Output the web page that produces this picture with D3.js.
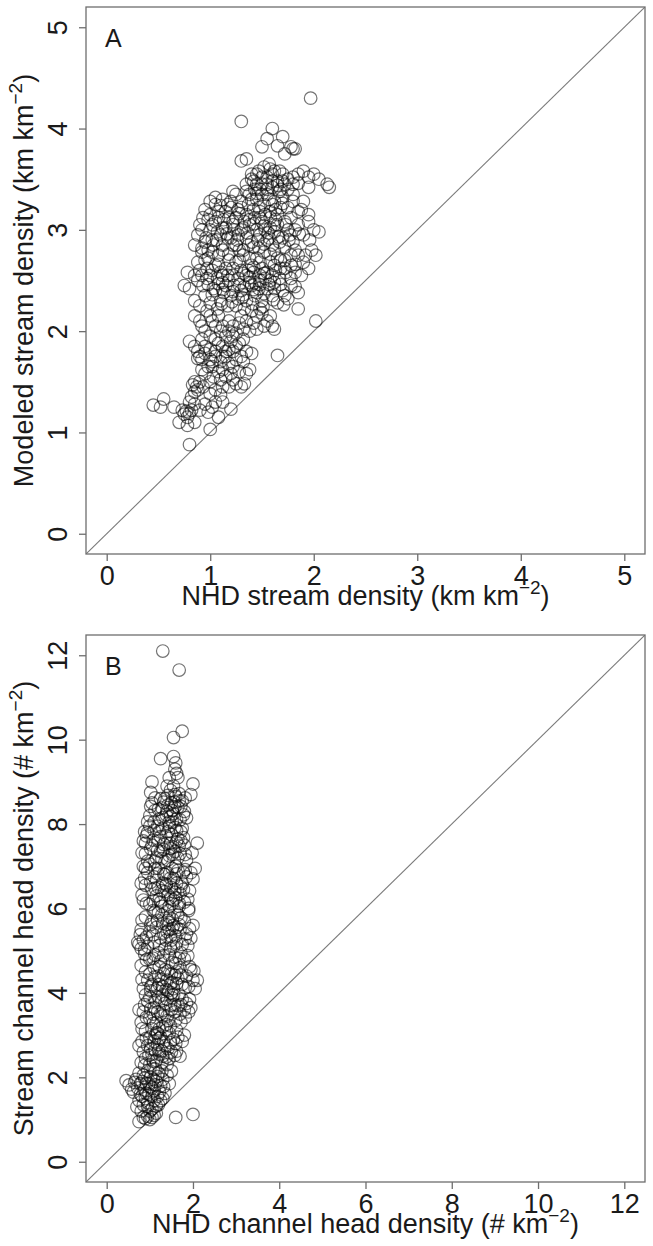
<!DOCTYPE html>
<html><head><meta charset="utf-8">
<script src="https://cdn.jsdelivr.net/npm/d3@7"></script>
<style>
html,body{margin:0;padding:0;background:#fff;}
text{font-family:"Liberation Sans",Arial,sans-serif;fill:#1a1a1a;}
</style></head>
<body>
<svg id="chart" width="653" height="1246"></svg>
<script>
// ---------- DATA ----------
const ticksA = [0,1,2,3,4,5];
const ticksB = [0,2,4,6,8,10,12];
const domainA = [-0.2, 5.2];
const domainB = [-0.48, 12.48];

// Panel A: [NHD stream density, Modeled stream density]
const pointsA = [
[0.80,0.88],[1.00,1.03],[0.45,1.27],[0.52,1.25],[0.55,1.33],[0.65,1.25],[0.70,1.10],[0.73,1.22],[0.75,1.18],[0.77,1.21],
[0.78,1.15],[0.80,1.19],[0.82,1.22],[0.78,1.07],[0.85,1.10],[0.98,1.20],[1.02,1.25],[1.05,1.30],[1.20,1.23],[0.95,1.28],[1.08,1.15],
[0.82,1.35],[0.85,1.40],[0.87,1.45],[0.90,1.50],[0.83,1.47],[0.88,1.42],[1.00,1.38],[1.05,1.42],[1.10,1.37],[1.12,1.45],
[1.15,1.55],[1.25,1.48],[1.30,1.45],[1.33,1.48],[1.35,1.58],[1.03,1.55],[0.95,1.58],[1.20,1.58],[1.08,1.60],[1.28,1.60],
[0.88,1.73],[0.90,1.75],[0.92,1.72],[0.95,1.78],[1.00,1.72],[1.02,1.65],[1.05,1.80],[1.10,1.70],[1.12,1.85],[1.15,1.75],
[1.18,1.68],[1.22,1.80],[1.25,1.85],[1.30,1.75],[1.35,1.80],[1.40,1.78],[0.80,1.90],[0.85,1.85],[1.65,1.76],[1.08,1.88],[0.98,1.65],[1.20,1.90],
[0.95,2.00],[1.00,1.95],[1.05,2.05],[1.10,2.00],[1.15,1.95],[1.18,2.10],[1.22,2.05],[1.30,2.15],[1.35,2.10],[1.40,2.20],
[1.45,2.15],[1.50,2.18],[1.48,2.22],[1.60,2.05],[1.62,2.02],[1.85,2.22],[2.02,2.10],[0.90,2.10],[0.85,2.15],[1.25,1.98],[1.08,2.15],[1.38,2.00],[1.55,2.10],
[0.80,2.42],[0.85,2.30],[0.90,2.25],[0.95,2.35],[1.00,2.28],[1.05,2.40],[1.10,2.30],[1.15,2.45],[1.20,2.35],[1.25,2.25],
[1.30,2.40],[1.35,2.30],[1.40,2.45],[1.45,2.38],[1.50,2.30],[1.55,2.42],[1.60,2.35],[1.65,2.28],[1.70,2.40],[1.75,2.32],
[1.78,2.45],[1.85,2.38],[0.75,2.45],[0.78,2.58],[1.12,2.48],[1.38,2.48],[1.48,2.50],[1.62,2.48],
[0.85,2.55],[0.90,2.60],[0.95,2.70],[1.00,2.55],[1.05,2.65],[1.08,2.75],[1.10,2.58],[1.15,2.62],[1.18,2.70],[1.22,2.55],
[1.25,2.68],[1.30,2.60],[1.32,2.75],[1.35,2.55],[1.40,2.65],[1.42,2.58],[1.45,2.72],[1.48,2.55],[1.50,2.62],[1.52,2.78],
[1.55,2.58],[1.58,2.68],[1.60,2.55],[1.65,2.72],[1.68,2.62],[1.72,2.70],[1.78,2.65],[1.82,2.58],[1.85,2.75],[1.90,2.68],
[1.95,2.62],[1.88,2.55],[0.98,2.80],[1.28,2.80],
[0.85,2.85],[0.88,2.95],[0.90,3.05],[0.95,2.88],[1.00,3.00],[1.02,2.90],[1.05,3.08],[1.10,2.95],[1.12,2.85],[1.15,3.02],
[1.20,2.92],[1.22,3.08],[1.25,2.85],[1.30,3.00],[1.35,2.92],[1.38,3.05],[1.40,2.88],[1.45,3.00],[1.48,2.95],[1.50,3.08],
[1.55,2.90],[1.58,3.02],[1.60,2.85],[1.62,2.98],[1.65,3.05],[1.70,2.92],[1.75,3.00],[1.80,2.88],[1.85,3.05],[1.90,2.95],
[1.95,3.08],[2.00,3.00],[2.05,2.98],[1.98,2.80],[2.02,2.75],
[0.95,3.20],[1.00,3.15],[1.05,3.25],[1.08,3.12],[1.12,3.30],[1.15,3.18],[1.20,3.22],[1.25,3.12],[1.30,3.28],[1.35,3.15],
[1.38,3.35],[1.42,3.20],[1.45,3.30],[1.48,3.12],[1.52,3.25],[1.55,3.35],[1.58,3.18],[1.62,3.28],[1.65,3.15],[1.70,3.32],
[1.75,3.22],[1.80,3.35],[1.85,3.18],[1.90,3.28],[1.95,3.15],[1.05,3.32],[1.22,3.38],
[1.35,3.45],[1.40,3.55],[1.42,3.48],[1.45,3.55],[1.50,3.45],[1.55,3.52],[1.60,3.42],[1.62,3.58],[1.65,3.48],[1.70,3.55],
[1.75,3.50],[1.80,3.45],[1.85,3.55],[1.90,3.58],[1.95,3.52],[2.00,3.55],[2.05,3.50],[2.13,3.45],[2.15,3.42],[1.52,3.62],
[1.58,3.60],[1.30,3.68],[1.35,3.70],[1.68,3.40],[1.48,3.40],
[1.97,4.30],[1.30,4.07],[1.60,4.00],[1.55,3.90],[1.50,3.82],[1.65,3.83],[1.70,3.92],[1.78,3.82],[1.80,3.80],[1.82,3.80],[1.72,3.75],
[1.03,2.42],[1.07,2.52],[1.13,2.38],[1.17,2.55],[1.23,2.45],[1.27,2.52],[1.33,2.44],[1.37,2.60],[1.43,2.48],[1.47,2.42],
[1.53,2.52],[1.57,2.46],[1.63,2.60],[1.67,2.52],[1.73,2.58],[1.43,2.35],[1.33,2.22],[1.27,2.32],[1.17,2.25],[1.07,2.22],
[1.03,2.85],[1.07,2.98],[1.13,3.10],[1.17,2.92],[1.23,3.00],[1.27,2.95],[1.33,3.08],[1.37,2.85],[1.43,3.12],[1.47,2.82],
[1.53,3.00],[1.57,2.92],[1.63,3.10],[1.67,2.88],[1.73,3.05],[1.77,2.95],[1.47,3.22],[1.53,3.15],[1.57,3.30],[1.63,3.20],
[1.67,3.38],[1.43,3.40],[1.37,3.25],[1.27,3.20],[1.17,3.25],[1.60,3.48],[1.55,3.45],[1.45,3.45],[1.72,3.45],[0.93,2.45],
[0.97,2.52],[0.92,2.78],[0.97,2.62],[0.93,3.12],[1.00,3.28],[1.12,1.62],[1.15,1.80],[1.05,1.75],[0.95,1.85],[1.25,1.72],
[1.32,1.92],[1.45,2.02],[1.18,2.00],[1.28,2.08],[1.02,2.10],[0.97,2.20],
[1.11,2.27],[1.21,2.29],[1.31,2.33],[1.41,2.27],[1.51,2.24],[1.61,2.31],[1.71,2.26],
[1.02,2.36],[1.12,2.41],[1.22,2.39],[1.32,2.36],[1.42,2.41],[1.52,2.37],[1.62,2.42],[1.72,2.35],[1.82,2.44],
[0.88,2.50],[0.98,2.46],[1.08,2.47],[1.18,2.50],[1.28,2.46],[1.38,2.53],[1.48,2.46],[1.58,2.50],[1.68,2.46],[1.78,2.52],
[0.92,2.55],[1.02,2.60],[1.12,2.55],[1.22,2.62],[1.32,2.57],[1.42,2.63],[1.52,2.57],[1.62,2.65],[1.72,2.62],[1.82,2.66],
[0.88,2.68],[0.98,2.72],[1.08,2.66],[1.18,2.76],[1.28,2.70],[1.38,2.72],[1.48,2.68],[1.58,2.76],[1.68,2.70],[1.78,2.75],[1.92,2.75],
[0.92,2.82],[1.02,2.78],[1.12,2.80],[1.22,2.85],[1.32,2.80],[1.42,2.83],[1.52,2.86],[1.62,2.80],[1.72,2.83],[1.82,2.80],
[0.96,2.92],[1.06,2.90],[1.16,2.96],[1.26,2.90],[1.36,2.97],[1.46,2.90],[1.56,2.97],[1.66,2.93],[1.76,2.90],[1.86,2.96],[1.96,2.90],
[0.92,3.00],[1.02,3.05],[1.12,3.02],[1.22,3.05],[1.32,3.02],[1.42,3.06],[1.52,3.04],[1.62,3.05],[1.72,3.08],[1.82,3.00],
[0.98,3.10],[1.08,3.18],[1.18,3.12],[1.28,3.16],[1.38,3.10],[1.48,3.18],[1.58,3.12],[1.68,3.22],[1.78,3.12],[1.88,3.20],
[1.10,3.24],[1.20,3.28],[1.30,3.22],[1.40,3.30],[1.50,3.35],[1.60,3.25],[1.70,3.26],[1.80,3.28],
[1.25,3.35],[1.35,3.38],[1.45,3.36],[1.55,3.40],[1.65,3.44],[1.75,3.40],[1.85,3.46],[1.95,3.42],
[1.40,3.50],[1.50,3.52],[1.60,3.55],[1.70,3.48],[1.80,3.52],[1.47,3.58],[1.57,3.65],[1.67,3.58],
[0.92,1.62],[1.02,1.70],[1.12,1.75],[1.22,1.65],[1.32,1.70],[1.38,1.62],[0.88,1.80],[1.00,1.82],[1.18,1.82],[1.28,1.88],
[0.92,1.92],[1.05,1.92],[1.12,2.05],[1.22,1.95],[1.32,2.02],[1.42,2.08],[1.52,2.05],[1.58,2.15],[0.92,2.05],[1.00,2.15],
[0.85,1.50],[0.93,1.45],[1.00,1.50],[1.10,1.52],[1.18,1.45],[1.22,1.52],[0.85,1.28],[0.90,1.22],[0.80,1.30],[1.12,1.30]
];

// Panel B: [NHD channel head density, Stream channel head density]
const pointsB = [
[0.75,0.95],[0.85,1.05],[0.90,1.02],[0.95,1.08],[1.00,1.00],[1.05,1.05],[1.10,1.10],[1.15,1.15],[0.80,1.20],[0.70,1.30],
[0.75,1.45],[0.85,1.35],[0.95,1.30],[1.05,1.25],[1.20,1.35],[1.25,1.45],[1.10,1.45],[0.90,1.50],[1.30,1.50],[1.60,1.05],[2.00,1.12],
[0.45,1.92],[0.52,1.82],[0.58,1.72],[0.62,1.65],[0.65,1.88],[0.72,1.75],[0.78,1.60],[0.82,1.90],[0.88,1.70],[0.92,1.85],
[0.98,1.60],[1.02,2.00],[1.05,1.75],[1.10,1.68],[1.15,1.90],[1.20,2.10],[1.25,1.80],[1.30,1.95],[1.35,1.62],[1.40,2.05],
[1.45,1.85],[0.95,2.15],[0.85,2.05],[1.08,2.20],[0.75,2.10],[1.50,2.15],
[0.80,2.35],[0.85,2.60],[0.90,2.45],[0.95,2.75],[1.00,2.30],[1.05,2.55],[1.10,2.85],[1.15,2.40],[1.20,2.65],[1.25,2.95],
[1.30,2.50],[1.35,2.75],[1.40,2.30],[1.50,2.60],[1.55,2.90],[1.60,2.80],[1.65,2.95],[1.70,2.50],[1.75,2.85],[1.80,3.00],
[0.75,2.75],[1.12,2.20],[1.45,2.45],[1.00,2.95],[1.28,2.35],
[0.80,3.30],[0.85,3.55],[0.90,3.10],[0.95,3.80],[1.00,3.40],[1.05,3.15],[1.10,3.65],[1.15,3.30],[1.20,3.90],[1.25,3.50],
[1.30,3.20],[1.35,3.75],[1.40,3.45],[1.45,3.05],[1.50,3.60],[1.55,3.95],[1.60,3.35],[1.65,3.70],[1.70,3.50],[1.75,3.85],
[1.80,3.60],[1.85,3.75],[1.90,3.55],[1.95,3.65],[1.00,3.90],[1.15,3.05],[1.30,3.95],[0.75,3.60],[0.90,3.95],[1.40,3.85],
[0.85,4.10],[0.90,4.50],[0.95,4.30],[1.00,4.80],[1.05,4.20],[1.10,4.60],[1.15,4.05],[1.20,4.40],[1.25,4.75],[1.30,4.15],
[1.35,4.55],[1.40,4.30],[1.45,4.90],[1.50,4.45],[1.55,4.10],[1.60,4.70],[1.65,4.35],[1.70,4.60],[1.75,4.20],[1.80,4.80],
[1.85,4.40],[1.90,4.15],[1.95,4.55],[2.00,4.30],[2.05,4.10],[2.10,4.30],[1.20,4.95],[0.80,4.65],[1.50,4.00],[1.00,4.45],
[0.75,5.15],[0.80,5.50],[0.85,5.25],[0.90,5.80],[0.95,5.10],[1.00,5.45],[1.05,5.70],[1.10,5.20],[1.15,5.55],[1.20,5.90],
[1.25,5.30],[1.30,5.65],[1.35,5.05],[1.40,5.45],[1.45,5.80],[1.50,5.25],[1.55,5.60],[1.60,5.35],[1.65,5.85],[1.70,5.50],
[1.75,5.15],[1.80,5.70],[1.85,5.40],[1.90,5.95],[1.95,5.30],[2.00,5.60],[1.55,5.10],[1.45,5.50],[0.80,5.05],[0.72,5.20],
[0.85,6.20],[0.90,6.55],[0.95,6.85],[1.00,6.10],[1.05,6.45],[1.10,6.75],[1.15,6.30],[1.20,6.95],[1.25,6.15],[1.30,6.60],
[1.35,6.40],[1.40,6.85],[1.45,6.05],[1.50,6.50],[1.55,6.70],[1.60,6.25],[1.65,6.90],[1.70,6.35],[1.75,6.60],[1.80,6.15],
[1.85,6.75],[1.90,6.00],[1.95,6.85],[2.05,6.95],[2.00,6.70],[0.90,6.95],[1.35,6.80],[1.55,6.20],[1.20,6.50],[0.80,6.60],
[0.85,7.60],[0.90,7.30],[0.95,7.80],[1.00,7.05],[1.05,7.50],[1.10,7.85],[1.15,7.20],[1.20,7.60],[1.25,7.35],[1.30,7.90],
[1.35,7.10],[1.40,7.55],[1.45,7.25],[1.50,7.75],[1.55,7.45],[1.60,7.00],[1.65,7.65],[1.70,7.30],[1.75,7.90],[1.80,7.50],
[1.85,7.15],[2.10,7.55],[0.85,7.00],[1.00,7.95],[1.25,7.70],[1.45,7.95],[1.65,7.20],[0.90,7.55],
[1.00,8.20],[1.05,8.50],[1.10,8.05],[1.20,8.35],[1.30,8.15],[1.35,8.60],[1.40,8.30],[1.45,8.05],[1.50,8.50],[1.55,8.25],
[1.60,8.65],[1.65,8.40],[1.70,8.10],[1.75,8.55],[1.80,8.30],[1.85,8.15],[1.95,8.70],[2.00,8.95],[1.02,8.75],[1.05,9.00],
[1.45,9.10],[1.62,9.20],[1.65,9.10],[1.48,8.80],[1.58,8.70],[1.25,8.60],[1.40,8.90],
[1.58,9.30],[1.60,9.45],[1.55,9.60],[1.25,9.55],[1.55,10.05],[1.75,10.20],[1.30,12.10],[1.68,11.65],
[1.22,2.55],[1.32,2.85],[1.18,3.05],[1.28,3.45],[1.38,3.25],[1.48,3.70],[1.58,3.55],[1.42,4.05],[1.52,4.25],[1.62,4.50],
[1.32,4.45],[1.22,4.20],[1.58,4.85],[1.48,5.05],[1.38,5.25],[1.62,5.55],[1.52,5.75],[1.42,5.95],[1.28,6.05],[1.58,6.45],
[1.48,6.25],[1.38,6.55],[1.62,6.60],[1.52,6.95],[1.42,7.15],[1.32,7.40],[1.58,7.35],[1.48,7.55],[1.62,7.85],[1.52,8.05],
[1.42,8.45],[1.58,8.40],[1.68,8.55],[1.55,8.90],[1.12,2.65],[1.08,3.50],[1.02,4.15],[1.12,4.90],[1.08,5.95],[1.12,6.95],
[1.18,7.95],[1.72,4.95],[1.78,6.45],[1.72,7.60],[1.68,6.05],[1.72,3.30],[1.05,1.55],[0.98,1.85],[1.18,1.55],
[0.88,2.28],[0.98,2.52],[1.08,2.38],[1.18,2.78],[1.28,2.62],[1.38,2.48],[1.48,2.82],[1.58,2.52],[0.92,2.92],[1.02,2.68],
[1.22,2.92],[1.42,2.68],[1.62,2.62],[0.82,2.85],[1.12,2.98],
[0.82,1.55],[0.92,1.62],[1.02,1.78],[1.12,1.82],[1.22,1.65],[1.32,1.78],[0.68,1.95],[0.88,1.98],[1.08,1.95],[1.18,2.02],
[1.28,2.15],[0.78,1.85],[0.95,1.40],[1.15,1.32],[1.00,1.20],
[0.82,3.15],[0.92,3.42],[1.02,3.62],[1.12,3.82],[1.22,3.15],[1.32,3.58],[1.42,3.35],[1.52,3.88],[1.62,3.12],[1.72,3.72],
[1.82,3.42],[1.92,3.85],[0.88,3.72],[1.08,3.28],[1.28,3.82],[1.48,3.22],[1.68,3.95],[1.18,3.55],[1.38,3.12],[1.58,3.72],
[0.82,4.32],[0.92,4.78],[1.02,4.05],[1.12,4.38],[1.22,4.62],[1.32,4.88],[1.42,4.52],[1.52,4.72],[1.62,4.22],[1.72,4.42],
[1.82,4.12],[1.92,4.62],[2.02,4.52],[0.88,4.92],[1.08,4.82],[1.28,4.32],[1.48,4.22],[1.68,4.82],[1.88,4.88],[1.38,4.08],
[1.58,4.42],[1.18,4.12],
[0.82,5.72],[0.92,5.32],[1.02,5.62],[1.12,5.92],[1.22,5.12],[1.32,5.42],[1.42,5.72],[1.52,5.52],[1.62,5.18],[1.72,5.78],
[1.82,5.28],[1.92,5.52],[0.88,5.02],[1.08,5.38],[1.28,5.85],[1.48,5.35],[1.68,5.62],[1.88,5.12],[1.38,5.62],[1.58,5.92],
[1.18,5.72],[0.78,5.38],
[0.82,6.32],[0.92,6.12],[1.02,6.62],[1.12,6.48],[1.22,6.22],[1.32,6.82],[1.42,6.32],[1.52,6.12],[1.62,6.82],[1.72,6.52],
[1.82,6.92],[1.92,6.42],[0.88,6.72],[1.08,6.18],[1.28,6.42],[1.48,6.72],[1.68,6.12],[1.88,6.22],[1.38,6.58],[1.58,6.38],
[1.18,6.82],[1.78,6.85],
[0.82,7.32],[0.92,7.72],[1.02,7.42],[1.12,7.12],[1.22,7.82],[1.32,7.52],[1.42,7.82],[1.52,7.28],[1.62,7.58],[1.72,7.82],
[1.82,7.28],[0.88,7.82],[1.08,7.62],[1.28,7.18],[1.48,7.42],[1.68,7.48],[1.38,7.72],[1.58,7.92],[1.18,7.38],[1.78,7.68],
[1.98,7.32],[0.95,7.12],
[1.02,8.42],[1.12,8.32],[1.22,8.12],[1.32,8.52],[1.42,8.68],[1.52,8.32],[1.62,8.12],[1.72,8.42],[1.82,8.62],[1.12,8.62],
[1.28,8.38],[1.48,8.18],[1.68,8.72],[1.58,8.52],[1.38,8.22],[1.78,8.22],[0.95,8.05]
];

// ---------- DRAW ----------
const svg = d3.select("#chart");
const panels = [
  {pts: pointsA, ticks: ticksA, dom: domainA, top: 7, bottom: 554, label: "A",
   xt: ["NHD stream density (km km", ")"], yt: ["Modeled stream density (km km", ")"]},
  {pts: pointsB, ticks: ticksB, dom: domainB, top: 635, bottom: 1182, label: "B",
   xt: ["NHD channel head density (# km", ")"], yt: ["Stream channel head density (# km", ")"]}
];
const left = 86, right = 645;
const fs = 27;

panels.forEach((p, i) => {
  const x = d3.scaleLinear().domain(p.dom).range([left, right]);
  const y = d3.scaleLinear().domain(p.dom).range([p.bottom, p.top]);
  const g = svg.append("g");

  const clipId = "clip" + i;
  g.append("clipPath").attr("id", clipId).append("rect")
    .attr("x", left).attr("y", p.top).attr("width", right - left).attr("height", p.bottom - p.top);

  // 1:1 line
  g.append("line").attr("clip-path", `url(#${clipId})`)
    .attr("x1", x(p.dom[0])).attr("y1", y(p.dom[0]))
    .attr("x2", x(p.dom[1])).attr("y2", y(p.dom[1]))
    .attr("stroke", "#7a7a7a").attr("stroke-width", 1.1);

  // points
  g.append("g").selectAll("circle").data(p.pts).join("circle")
    .attr("cx", d => x(d[0])).attr("cy", d => y(d[1])).attr("r", 6.3)
    .attr("fill", "none").attr("stroke", "rgba(0,0,0,0.55)").attr("stroke-width", 1.2);

  // box
  g.append("rect").attr("x", left).attr("y", p.top)
    .attr("width", right - left).attr("height", p.bottom - p.top)
    .attr("fill", "none").attr("stroke", "#6e6e6e").attr("stroke-width", 1.3);

  // x axis
  const xa = g.append("g").attr("transform", `translate(0,${p.bottom})`)
    .call(d3.axisBottom(x).tickValues(p.ticks).tickSize(7).tickFormat(d3.format("d")));
  xa.select(".domain").remove();
  xa.selectAll(".tick line").attr("stroke", "#6e6e6e").attr("stroke-width", 1.3);
  xa.selectAll(".tick text").attr("y", 31).attr("dy", null)
    .attr("font-size", fs).attr("font-family", "Liberation Sans, Arial, sans-serif").attr("fill", "#1a1a1a");

  // y axis
  const ya = g.append("g").attr("transform", `translate(${left},0)`)
    .call(d3.axisLeft(y).tickValues(p.ticks).tickSize(7).tickFormat(d3.format("d")));
  ya.select(".domain").remove();
  ya.selectAll(".tick line").attr("stroke", "#6e6e6e").attr("stroke-width", 1.3);
  ya.selectAll(".tick text").attr("x", 0).attr("y", -19).attr("dy", null)
    .attr("text-anchor", "middle").attr("transform", "rotate(-90)")
    .attr("font-size", fs).attr("font-family", "Liberation Sans, Arial, sans-serif").attr("fill", "#1a1a1a");

  // x title
  const xt = g.append("text").attr("x", (left + right) / 2).attr("y", p.bottom + 51)
    .attr("text-anchor", "middle").attr("font-size", fs);
  xt.append("tspan").text(p.xt[0]);
  xt.append("tspan").attr("font-size", 19).attr("dy", -11).text("\u22122");
  xt.append("tspan").attr("dy", 11).text(p.xt[1]);

  // y title
  const cy = (p.top + p.bottom) / 2;
  const yt = g.append("text").attr("transform", `translate(33,${cy}) rotate(-90)`)
    .attr("text-anchor", "middle").attr("font-size", fs);
  yt.append("tspan").text(p.yt[0]);
  yt.append("tspan").attr("font-size", 19).attr("dy", -11).text("\u22122");
  yt.append("tspan").attr("dy", 11).text(p.yt[1]);

  // panel letter
  g.append("text").attr("x", 105).attr("y", p.top + 40).attr("font-size", 25).text(p.label);
});
</script>
</body></html>
